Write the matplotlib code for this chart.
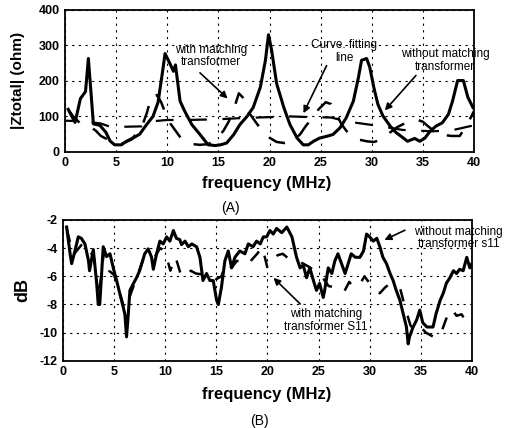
import matplotlib
matplotlib.use("Agg")
import matplotlib.pyplot as plt

plt.rcParams["font.family"] = ["Liberation Sans", "DejaVu Sans"]
plt.rcParams["axes.unicode_minus"] = False

# ---------------- (A) impedance ----------------
freq_a_without = [0.3, 0.98, 1.5, 2.0, 2.28, 2.77, 3.4, 4.0, 4.4, 4.85, 5.5, 6.0, 6.7, 7.3, 7.9,
                  8.6, 9.1, 9.6, 9.78, 10.3, 10.6, 10.8, 11.25, 11.7, 12.4, 13.2, 14.0, 14.7,
                  15.2, 15.8, 16.5, 17.1, 17.8, 18.4, 19.1, 19.6, 19.9, 20.2, 20.7, 21.4, 22.0,
                  22.7, 23.3, 23.8, 24.3, 24.9, 25.6, 26.2, 26.9, 27.5, 28.2, 28.7, 29.0, 29.5,
                  29.8, 30.2, 30.6, 31.1, 31.8, 32.4, 33.1, 33.5, 34.2, 34.7, 35.2, 35.7, 36.3,
                  36.9, 37.5, 37.9, 38.4, 38.96, 39.4, 39.9]
z_without = [120, 83, 150, 170, 263, 79, 75, 55, 31, 20, 20, 30, 40, 50, 74,
             100, 140, 239, 277, 246, 227, 245, 143, 115, 77, 49, 20, 18,
             20, 25, 49, 77, 100, 125, 182, 258, 330, 287, 192, 125, 77,
             39, 20, 20, 30, 39, 44, 49, 68, 96, 143, 210, 258, 263,
             239, 182, 134, 101, 73, 54, 39, 30, 38, 30, 39, 58, 73,
             82, 106, 143, 201, 201, 154, 125]

freq_a_with = [0.3, 0.8, 1.5, 2.5, 3.0, 3.5, 4.5, 5.5, 6.5, 7.5, 8.0, 8.5, 9.0, 9.4, 9.8,
               10.3, 10.8, 11.3, 11.8, 12.5, 13.2, 14.0, 14.8, 15.5, 16.0, 16.5, 17.0, 17.5,
               18.0, 18.5, 19.0, 19.5, 20.0, 20.7, 21.5, 22.3, 23.0, 23.6, 24.2, 24.8, 25.5,
               26.0, 26.5, 27.0, 27.5, 28.0, 28.7, 29.5, 30.2, 31.0, 31.8, 32.5, 33.2, 33.8,
               34.5, 35.0, 35.6, 36.3, 37.0, 37.8, 38.6, 39.3, 40.0]
z_with = [120, 100, 80, 70, 60, 45, 30, 22, 35, 70, 110, 160, 160, 140, 110,
          80, 60, 40, 30, 22, 20, 22, 35, 60, 85, 120, 165, 150,
          110, 90, 70, 55, 40, 28, 25, 30, 50, 75, 95, 120, 140,
          135, 110, 80, 60, 45, 35, 30, 28, 35, 55, 70, 80, 85,
          90, 85, 70, 55, 48, 45, 45, 75, 115]

freq_a_fit = [0, 2, 3.5, 4.5, 7.5, 8, 10, 12, 15, 17, 20, 22, 24, 26, 27, 28.5, 31, 33, 36, 38, 40]
z_fit = [88, 86, 80, 70, 72, 85, 90, 90, 92, 95, 98, 100, 98, 97, 90, 82, 72, 62, 58, 62, 75]

# ---------------- (B) S11 ----------------
freq_b_without = [0.36, 0.7, 0.85, 1.17, 1.5, 1.8, 2.15, 2.5, 2.6, 2.97, 3.3, 3.45, 3.6, 3.94,
                  4.27, 4.6, 4.92, 5.25, 5.57, 5.9, 6.06, 6.22, 6.39, 6.55, 6.9, 7.2, 7.5,
                  8.0, 8.34, 8.67, 8.84, 9.16, 9.48, 9.81, 10.14, 10.46, 10.8, 11.1, 11.44,
                  11.6, 11.94, 12.27, 12.6, 13.07, 13.4, 13.7, 14.05, 14.37, 14.7, 15.03,
                  15.2, 15.5, 15.84, 16.17, 16.5, 16.82, 17.3, 17.8, 18.13, 18.6, 18.94,
                  19.3, 19.6, 19.92, 20.25, 20.57, 20.9, 21.4, 21.9, 22.4, 22.85, 23.2,
                  23.5, 23.83, 24.15, 24.5, 24.8, 25.1, 25.46, 25.6, 25.95, 26.3, 26.6,
                  26.9, 27.25, 27.6, 27.9, 28.2, 28.6, 29.05, 29.4, 29.7, 30.0, 30.35,
                  30.7, 31.0, 31.3, 31.65, 32.0, 32.3, 32.6, 32.96, 33.28, 33.6, 33.77,
                  33.9, 34.25, 34.6, 34.9, 35.2, 35.6, 36.2, 36.5, 36.9, 37.2, 37.5,
                  37.85, 38.2, 38.5, 38.8, 39.15, 39.5, 39.8, 40.0]
s11_without = [-2.5, -4.4, -5.1, -4.2, -3.2, -3.3, -3.7, -4.9, -5.6, -4.1, -6.5, -8.0, -8.0, -3.9,
               -4.6, -4.4, -5.4, -6.3, -7.25, -8.2, -8.7, -10.3, -8.7, -7.0, -6.5, -6.1, -5.6,
               -4.4, -4.05, -4.65, -5.5, -4.4, -3.5, -3.7, -3.2, -3.5, -2.75, -3.3, -3.4,
               -3.75, -3.5, -3.9, -3.7, -3.9, -4.65, -6.3, -5.8, -6.3, -6.3, -7.7,
               -8.0, -6.8, -4.9, -4.2, -5.4, -4.65, -4.2, -4.4, -3.7, -3.9, -3.5,
               -3.7, -3.2, -3.2, -2.75, -3.0, -2.6, -2.9, -2.5, -3.2, -4.65, -5.4,
               -5.2, -6.1, -5.4, -6.3, -7.0, -6.5, -7.5, -7.0, -5.4, -5.8, -4.9,
               -4.4, -5.1, -5.8, -5.1, -4.4, -4.65, -4.65, -4.2, -3.0, -3.2, -3.5,
               -3.3, -3.9, -4.65, -5.1, -5.8, -6.3, -7.0, -7.7, -8.65, -9.6, -10.8,
               -10.3, -9.6, -9.1, -8.4, -9.3, -9.6, -9.6, -8.65, -7.7, -7.2, -6.5,
               -6.1, -5.6, -5.8, -5.5, -5.6, -4.65, -5.4, -5.1]

freq_b_with = [0.4, 1, 2, 3, 3.5, 4, 4.5, 5, 5.5, 6, 6.5, 7, 8, 9, 9.5, 10, 10.5, 11, 11.5,
               12, 12.5, 13, 14, 15, 15.5, 16, 16.5, 17, 17.5, 18, 18.5, 19, 19.5, 20,
               20.5, 21, 21.5, 22, 23, 24, 25, 25.5, 26, 27, 27.5, 28, 28.5, 29, 29.5,
               30, 30.5, 31, 31.5, 32, 33, 33.5, 34, 34.5, 35, 35.5, 36, 36.5, 37, 37.5,
               38, 38.5, 39, 39.5, 40]
s11_with = [-2.7, -4.5, -3.6, -4.6, -7.5, -4.3, -5.6, -5.9, -7.0, -8.3, -7.5, -6.5, -4.5,
            -4.6, -4.0, -4.2, -5.6, -4.6, -5.8, -6.1, -5.6, -5.8, -5.9, -6.2, -6.0, -5.0,
            -5.4, -4.9, -5.0, -5.2, -4.8, -4.4, -3.9, -5.4, -5.0, -4.5, -4.4, -4.7, -4.9,
            -5.3, -5.8, -6.2, -6.7, -6.8, -7.1, -6.4, -6.8, -6.6, -6.0, -6.5, -7.0, -7.2,
            -6.8, -6.5, -6.9, -8.3, -9.5, -9.9, -9.6, -10.0, -10.2, -10.4, -10.0, -9.0,
            -8.3, -8.8, -8.7, -9.3, -9.7]

x_ticks = [0, 5, 10, 15, 20, 25, 30, 35, 40]
z_ticks = [0, 100, 200, 300, 400]
db_ticks = [-12, -10, -8, -6, -4, -2]


def style_axes(ax):
    ax.grid(True, color="black", linestyle=(0, (2, 4)), linewidth=0.8)
    for sp in ax.spines.values():
        sp.set_linewidth(1.3)
    ax.tick_params(direction="in", length=0, labelsize=9, pad=4)
    for lab in ax.get_xticklabels() + ax.get_yticklabels():
        lab.set_fontweight("bold")


fig = plt.figure(figsize=(5.29, 4.28), dpi=100)

# (A)
ax1 = fig.add_axes([0.123, 0.645, 0.773, 0.332])
ax1.plot(freq_a_without, z_without, color="black", lw=2.2)
ax1.plot(freq_a_with, z_with, color="black", lw=1.8, linestyle=(0, (7, 6)))
ax1.plot(freq_a_fit, z_fit, color="black", lw=1.6, linestyle=(3, (8, 7)))
ax1.set_xlim(0, 40)
ax1.set_ylim(0, 400)
ax1.set_xticks(x_ticks)
ax1.set_yticks(z_ticks)
style_axes(ax1)
ax1.set_ylabel("|Ztotal| (ohm)", fontsize=11, fontweight="bold")
ax1.yaxis.set_label_coords(-0.098, 0.5)

ax1.text(14.3, 270, "with matching\ntransformer", fontsize=8.5, ha="center", va="center",
         multialignment="center", linespacing=1.1)
ax1.annotate("", xy=(16.1, 145), xytext=(13.0, 228),
             arrowprops=dict(arrowstyle="-|>", color="black", lw=1.2, mutation_scale=10))
ax1.text(27.3, 284, "Curve. fitting\nline", fontsize=8.5, ha="center", va="center",
         multialignment="center", linespacing=1.1)
ax1.annotate("", xy=(23.2, 102), xytext=(25.7, 250),
             arrowprops=dict(arrowstyle="-|>", color="black", lw=1.2, mutation_scale=10))
ax1.text(37.2, 258, "without matching\ntransformer", fontsize=8.5, ha="center", va="center",
         multialignment="center", linespacing=1.1, clip_on=False)
ax1.annotate("", xy=(31.1, 111), xytext=(34.5, 221),
             arrowprops=dict(arrowstyle="-|>", color="black", lw=1.2, mutation_scale=10))

fig.text(0.505, 0.572, "frequency (MHz)", fontsize=12, fontweight="bold", ha="center", va="center")
fig.text(0.435, 0.514, "(A)", fontsize=10, ha="center", va="center")

# (B)
ax2 = fig.add_axes([0.119, 0.157, 0.773, 0.329])
ax2.plot(freq_b_without, s11_without, color="black", lw=2.2)
ax2.plot(freq_b_with, s11_with, color="black", lw=1.8, linestyle=(0, (5, 6)))
ax2.set_xlim(0, 40)
ax2.set_ylim(-12, -2)
ax2.set_xticks(x_ticks)
ax2.set_yticks(db_ticks)
style_axes(ax2)
ax2.set_ylabel("dB", fontsize=13, fontweight="bold")
ax2.yaxis.set_label_coords(-0.078, 0.5)

ax2.text(38.7, -3.28, "without matching\ntransformer s11", fontsize=8.5, ha="center", va="center",
         multialignment="center", linespacing=1.1, clip_on=False)
ax2.annotate("", xy=(31.2, -3.5), xytext=(33.7, -2.64),
             arrowprops=dict(arrowstyle="-|>", color="black", lw=1.2, mutation_scale=10))
ax2.text(25.7, -9.16, "with matching\ntransformer S11", fontsize=8.5, ha="center", va="center",
         multialignment="center", linespacing=1.1)
ax2.annotate("", xy=(20.4, -5.97), xytext=(23.4, -8.1),
             arrowprops=dict(arrowstyle="-|>", color="black", lw=1.2, mutation_scale=10))

fig.text(0.505, 0.079, "frequency (MHz)", fontsize=12, fontweight="bold", ha="center", va="center")
fig.text(0.49, 0.016, "(B)", fontsize=10, ha="center", va="center")

fig.savefig("out.png", dpi=100)
